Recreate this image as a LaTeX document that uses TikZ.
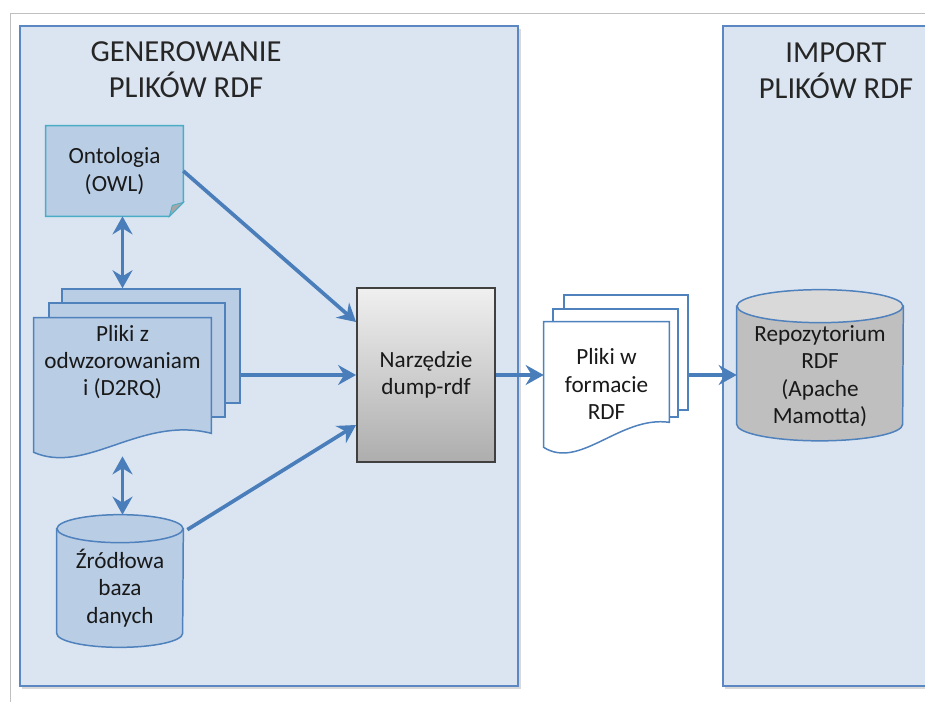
\documentclass[tikz,border=0pt]{standalone}
\usepackage{fontspec}
\setmainfont{Carlito}
\usetikzlibrary{arrows.meta,calc}
\definecolor{panelbg}{HTML}{DBE5F1}
\definecolor{panelline}{HTML}{5B87C2}
\definecolor{docfill}{HTML}{B9CDE5}
\definecolor{docline}{HTML}{4F81BD}
\definecolor{noteline}{HTML}{4BACC6}
\definecolor{flowblue}{HTML}{4A7EBB}
\definecolor{repobody}{HTML}{BFBFBF}
\definecolor{repotop}{HTML}{D9D9D9}
\pgfdeclarelayer{back}
\pgfdeclarelayer{shapes}
\pgfsetlayers{back,shapes,main}
\tikzset{
  panel/.style={draw=panelline,fill=panelbg,line width=1.1pt},
  heading/.style={align=center,font=\fontsize{17.4}{20.5}\selectfont,text=black!85},
  txt/.style={rectangle,align=center,font=\fontsize{13.2}{15.6}\selectfont,inner sep=0pt,text=black!90},
  sheet/.style={rectangle,draw=docline,fill=docfill,line width=0.85pt,inner sep=0pt},
  whitesheet/.style={sheet,fill=white},
  notebox/.style={draw=noteline,fill=docfill,line width=0.85pt},
  fold/.style={draw=noteline,fill=black!35,line width=0.5pt},
  cyl/.style={draw=docline,fill=docfill,line width=0.85pt},
  tool/.style={txt,draw=black!75,line width=1.1pt,top color=black!6,bottom color=black!32},
  >={Stealth[length=3.6mm,width=4mm,inset=1.2mm]},
  flow/.style={->,draw=flowblue,line width=2.1pt}
}

\begin{document}
\begin{tikzpicture}[x=0.02cm,y=-0.02cm]
\useasboundingbox (0,0) rectangle (925,702);
\clip (0,0) rectangle (925,702);
\draw[black!25,line width=0.5pt] (925,13) -- (10,13) -- (10,702);

% two stages
\begin{pgfonlayer}{back}
\fill[black!15] (22,29) rectangle (521,689);
\fill[black!15] (725,29) rectangle (940,689);
\draw[panel] (20,26) rectangle (518,686);
\draw[panel] (723,26) rectangle (940,686);
\end{pgfonlayer}
\node[heading] (gen) at (186,70) {GENEROWANIE\\PLIKÓW RDF};
\node[heading] (imp) at (836,71) {IMPORT\\PLIKÓW RDF};

% nodes
\node[txt,minimum width=2.74cm,minimum height=1.8cm] (owl) at (114.5,171) {Ontologia\\(OWL)};
\node[txt,minimum width=3.54cm,minimum height=1.76cm] (maps) at (122.5,362) {Pliki z\\odwzorowaniam\\i (D2RQ)};
\node[txt,minimum width=2.52cm,minimum height=1.8cm] (db) at (120,588) {Źródłowa\\baza\\danych};
\node[tool,minimum width=2.76cm,minimum height=3.48cm] (dump) at (426,375) {Narzędzie\\dump-rdf};
\node[txt,minimum width=2.5cm,minimum height=2.48cm] (rdf) at (606.5,384) {Pliki w\\formacie\\RDF};
\node[txt,minimum width=3.32cm,minimum height=2.12cm] (repo) at (820,376) {Repozytorium\\RDF\\(Apache\\Mamotta)};

% outlines behind the texts
\begin{pgfonlayer}{shapes}
\draw[notebox] (owl.north west) -- (owl.north east) -- ($(owl.south east)+(0,-14)$)
  -- ($(owl.south east)+(-14,0)$) -- (owl.south west) -- cycle;
\draw[fold] ($(owl.south east)+(0,-14)$) -- ($(owl.south east)+(-11,-11)$) -- ($(owl.south east)+(-14,0)$) -- cycle;

\node[sheet,minimum width=3.56cm,minimum height=2.28cm] (mapsback) at (151,346) {};
\node[sheet,minimum width=3.52cm,minimum height=2.28cm] (mapsmid) at (137,360) {};
\draw[sheet] (maps.north west) -- (maps.north east) -- ($(maps.south east)+(0,27)$)
  .. controls ($(maps.south east)+(-71,9)$) and ($(maps.south west)+(53,69)$) .. ($(maps.south west)+(0,46)$) -- cycle;

\draw[cyl] ($(db.north west)+(0,-14)$) -- (db.south west)
  arc[start angle=180,end angle=360,x radius=1.26cm,y radius=0.28cm] -- ($(db.north east)+(0,-14)$) -- cycle;
\draw[cyl] ($(db.north)+(0,-14)$) ellipse[x radius=1.26cm,y radius=0.28cm];

\node[whitesheet,minimum width=2.48cm,minimum height=2.3cm] (rdfback) at (626,352.5) {};
\node[whitesheet,minimum width=2.5cm,minimum height=2.16cm] (rdfmid) at (615.5,363) {};
\draw[whitesheet] (rdf.north west) -- (rdf.north east) -- ($(rdf.south east)+(0,-24)$)
  .. controls ($(rdf.south east)+(-49,-31)$) and ($(rdf.south west)+(36,24)$) .. ($(rdf.south west)+(0,1)$) -- cycle;

\draw[cyl,fill=repobody] ($(repo.north west)+(0,-16.5)$) -- ($(repo.south west)+(0,-5)$)
  arc[start angle=180,end angle=360,x radius=1.66cm,y radius=0.33cm] -- ($(repo.north east)+(0,-16.5)$) -- cycle;
\draw[cyl,fill=repotop] ($(repo.north)+(0,-16.5)$) ellipse[x radius=1.66cm,y radius=0.33cm];
\end{pgfonlayer}

% connectors
\draw[flow,<->] (owl.south -| maps) -- (mapsback.north -| maps);
\draw[flow,<->] ($(maps.south)+(0,50)$) -- ($(db.north -| maps)+(0,-28)$);
\draw[flow] (owl.east) -- ($(dump.west)+(0,-53)$);
\draw[flow] (dump.west -| mapsback.east) -- (dump.west);
\draw[flow] ($(db.north east)+(4,-13)$) -- ($(dump.west)+(0,50)$);
\draw[flow] (dump.east) -- (dump.east -| rdf.west);
\draw[flow] (dump.east -| rdfback.east) -- (dump.east -| repo.west);
\end{tikzpicture}
\end{document}
